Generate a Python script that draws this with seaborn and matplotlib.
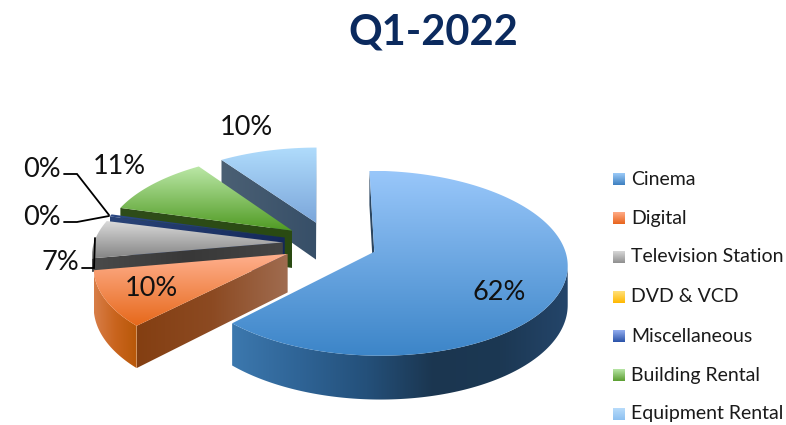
"""Q1-2022 revenue split, drawn as an exploded 3D-look pie."""

import matplotlib

matplotlib.use("Agg")

import matplotlib.pyplot as plt
import numpy as np
import seaborn as sns
from matplotlib.patches import Polygon

CATEGORIES = [
    "Cinema",
    "Digital",
    "Television Station",
    "DVD & VCD",
    "Miscellaneous",
    "Building Rental",
    "Equipment Rental",
]
SHARES = [62.3, 9.9, 6.8, 0.0, 0.4, 10.9, 9.6]

TOP_COLORS = [
    ["#99c7fa", "#3c85c8"],
    ["#ffb08e", "#e6681a"],
    ["#dcdcdc", "#858585"],
    ["#ffe07a", "#ffb800"],
    ["#2c4a86", "#1c3468"],
    ["#bce8a8", "#4f9a22"],
    ["#b0dcfc", "#7ba6da"],
]
CUT_COLORS = [
    ["#2c4660", "#2c4660"],
    ["#843f12", "#8c4a22", "#a06c50"],
    ["#4a4a4a", "#383838", "#454545"],
    ["#8a6a10", "#8a6a10"],
    ["#2a4478", "#14285a"],
    ["#2f4d1a", "#2a4a12"],
    ["#4b6074", "#374f68"],
]
RIM_COLORS = [
    ["#3c78ae", "#2f6496", "#24507a", "#1b3650", "#1c3853", "#24456a"],
    ["#d87e48", "#c9641e", "#b85808"],
    ["#6e6e6e", "#505050"],
    ["#8a6a10", "#8a6a10"],
    ["#2a4478", "#14285a"],
    ["#2f4d1a", "#2a4a12"],
    ["#4b6074", "#374f68"],
]
LEGEND_COLORS = [
    ["#9ccbf8", "#3d7fc0"],
    ["#ffab87", "#e8641c"],
    ["#d8d8d8", "#8f8f8f"],
    ["#ffe07a", "#ffb800"],
    ["#93aef0", "#2a52a8"],
    ["#b8e6a6", "#5a9e30"],
    ["#b8dcfb", "#8dc0f0"],
]

# back slices first so the front ones overlap them
DRAW_ORDER = [6, 5, 4, 3, 2, 1, 0]
# the TV slice sits mostly behind Digital, only a short strip of its side shows
SIDE_DEPTH = [1.0, 1.0, 0.35, 1.0, 1.0, 1.0, 1.0]

LABEL_POS = [(499, 293), (151, 289), (60, 263), (42, 217), (42, 169), (119, 166), (246, 127)]
LEADERS = [
    [(64, 174), (77, 174), (109, 215)],
    [(64, 222), (77, 222), (109, 216)],
    [(82, 268), (94, 268), (95, 238)],
]
LEGEND_Y = [180, 219, 258, 298, 337, 376, 415]

# projection of the unit pie onto the 786x425 canvas
CX, CY = 330, 243.3
A, B = 189, 89
K = 0.122
DEPTH = 38
EXPLODE = 0.25


def project(x, y, z=0.0):
    s = 1 / (1 + K * y)
    return CX + A * x * s, CY - B * y * s + DEPTH * z * s


def fill_gradient(ax, verts, colors, vertical, zorder):
    verts = np.asarray(verts)
    x0, y0 = verts.min(axis=0)
    x1, y1 = verts.max(axis=0)
    cmap = sns.blend_palette(colors, as_cmap=True)
    ramp = np.linspace(0, 1, 256)
    ramp = ramp[:, None] if vertical else ramp[None, :]
    image = ax.imshow(
        ramp, cmap=cmap, vmin=0, vmax=1, extent=(x0, x1, y1, y0), origin="upper",
        aspect="auto", interpolation="bilinear", zorder=zorder,
    )
    clip = Polygon(verts, closed=True, transform=ax.transData, facecolor="none", edgecolor="none")
    ax.add_patch(clip)
    image.set_clip_path(clip)


def draw_slice(ax, index, start, share, zorder):
    span = share * 3.6
    mid = np.radians(start + span / 2)
    ox, oy = EXPLODE * np.sin(mid), EXPLODE * np.cos(mid)
    angles = np.radians(np.linspace(start, start + span, max(int(span), 8)))
    rim_x, rim_y = ox + np.sin(angles), oy + np.cos(angles)
    depth = SIDE_DEPTH[index]

    top_rim = np.column_stack(project(rim_x, rim_y))
    low_rim = np.column_stack(project(rim_x, rim_y, depth))
    apex = np.array(project(ox, oy))
    apex_low = np.array(project(ox, oy, depth))

    # a face shows only when the clockwise outline runs leftwards along it
    if top_rim[0, 0] < apex[0]:
        fill_gradient(ax, [apex, top_rim[0], low_rim[0], apex_low], CUT_COLORS[index], False, zorder)
    if top_rim[-1, 0] > apex[0]:
        fill_gradient(ax, [top_rim[-1], apex, apex_low, low_rim[-1]], CUT_COLORS[index], False, zorder)

    steps = np.diff(top_rim[:, 0])
    shown = np.where(steps < 0)[0]
    if len(shown):
        first, last = shown[0], shown[-1] + 2
        side = np.vstack([top_rim[first:last], low_rim[first:last][::-1]])
        fill_gradient(ax, side, RIM_COLORS[index], False, zorder + 0.1)

    fill_gradient(ax, np.vstack([apex, top_rim]), TOP_COLORS[index], True, zorder + 0.2)


def main():
    sns.set_theme(style="white")
    plt.rcParams["font.family"] = ["Lato", "DejaVu Sans"]

    fig = plt.figure(figsize=(7.86, 4.25), dpi=100)
    ax = fig.add_axes([0, 0, 1, 1])

    starts = np.concatenate([[0], np.cumsum(SHARES)[:-1]]) * 3.6
    for rank, index in enumerate(DRAW_ORDER):
        if SHARES[index] > 0:
            draw_slice(ax, index, starts[index], SHARES[index], 2 + rank)

    for leader in LEADERS:
        xs, ys = zip(*leader)
        ax.plot(xs, ys, color="black", lw=1.3, zorder=20, solid_joinstyle="miter")

    for share, (x, y) in zip(SHARES, LABEL_POS):
        ax.text(x, y, f"{round(share)}%", fontsize=19.5, color="#111111", ha="center", va="center", zorder=21)

    for name, colors, y in zip(CATEGORIES, LEGEND_COLORS, LEGEND_Y):
        box = [(613, y - 7), (625, y - 7), (625, y + 5), (613, y + 5)]
        fill_gradient(ax, box, colors, True, 22)
        ax.text(631, y - 1, name, fontsize=14, color="#1a1a1a", ha="left", va="center", zorder=22)

    ax.text(433, 32, "Q1-2022", fontsize=30, fontweight="bold", color="#0b2a5e", ha="center", va="center")

    ax.set_xlim(0, 786)
    ax.set_ylim(425, 0)
    ax.set_axis_off()
    fig.savefig("out.png", dpi=100, facecolor="white")
    plt.close(fig)


if __name__ == "__main__":
    main()
